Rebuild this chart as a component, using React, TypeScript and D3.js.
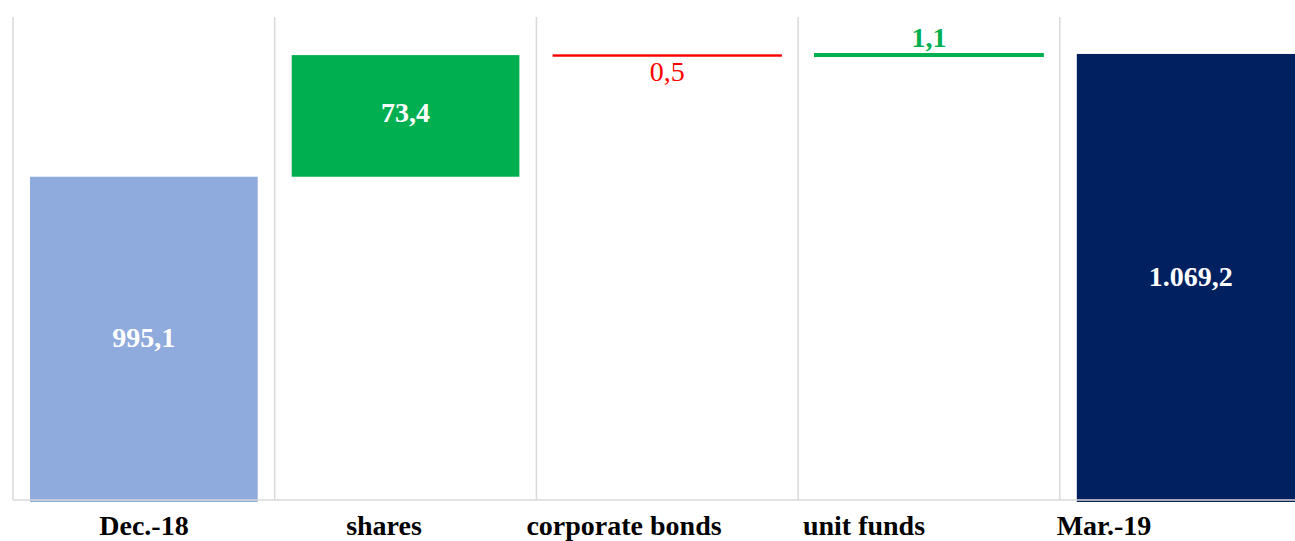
import React, { useEffect, useRef } from 'react';
import * as d3 from 'd3';

const categories = ['Dec.-18', 'shares', 'corporate bonds', 'unit funds', 'Mar.-19'];
const values = [995.1, 73.4, -0.5, 1.1, 1069.2];
const valueLabels = ['995,1', '73,4', '0,5', '1,1', '1.069,2'];
const kinds = ['total', 'delta', 'delta', 'delta', 'total'];
const yDomain = [800, 1091.5];

const WIDTH = 1295;
const HEIGHT = 541;

const App = () => {
  const svgRef = useRef<SVGSVGElement>(null);

  useEffect(() => {
    const svg = d3.select(svgRef.current);
    svg.selectAll('*').remove();

    const left = 13;
    const n = categories.length;
    const step = 261.7;
    const x = d3.scaleBand<string>()
      .domain(categories)
      .range([left, left + n * step])
      .paddingInner(0.13)
      .paddingOuter(0.065);
    // category labels sit in their own evenly spaced row under the plot
    const xLabel = d3.scalePoint<string>()
      .domain(categories)
      .range([144, 1104]);
    const y = d3.scaleLinear().domain(yDomain).range([500, 17]);

    // waterfall segments
    let running = 0;
    const segs = categories.map((c, i) => {
      let y0, y1;
      if (kinds[i] === 'total') {
        y0 = yDomain[0];
        y1 = values[i];
        running = values[i];
      } else {
        y0 = running;
        y1 = running + values[i];
        running = y1;
      }
      return { c, i, lo: Math.min(y0, y1), hi: Math.max(y0, y1), v: values[i] };
    });

    const colorFor = (d) => {
      if (d.i === 0) return '#8FAADC';
      if (d.i === n - 1) return '#002060';
      return d.v >= 0 ? '#00B050' : '#FF0000';
    };

    // gridlines at band boundaries
    const g = svg.append('g');
    d3.range(n).forEach(i => {
      const gx = left + i * step;
      g.append('line')
        .attr('x1', gx).attr('x2', gx)
        .attr('y1', 17).attr('y2', 500)
        .attr('stroke', '#D9D9D9')
        .attr('stroke-width', 1.5);
    });

    // bars
    svg.selectAll('rect.bar')
      .data(segs)
      .enter()
      .append('rect')
      .attr('class', 'bar')
      .attr('x', d => x(d.c))
      .attr('width', x.bandwidth())
      .attr('y', d => y(d.hi))
      .attr('height', d => Math.max(0.5, y(d.lo) - y(d.hi)) + (kinds[d.i] === 'total' ? 2 : 0))
      .attr('fill', colorFor)
      .attr('stroke', colorFor)
      .attr('stroke-width', d => (Math.abs(d.v) < 2 ? (d.v > 0 ? 2.2 : 1.6) : 0));

    // axis line
    svg.append('line')
      .attr('x1', left).attr('x2', WIDTH)
      .attr('y1', 500).attr('y2', 500)
      .attr('stroke', '#D9D9D9')
      .attr('stroke-width', 1.5);

    // value labels
    svg.selectAll('text.val')
      .data(segs)
      .enter()
      .append('text')
      .attr('class', 'val')
      .attr('x', d => x(d.c) + x.bandwidth() / 2)
      .attr('y', d => {
        if (Math.abs(d.v) < 2) {
          return d.v < 0 ? y(d.lo) + 25 : y(d.hi) - 7;
        }
        return (y(d.hi) + y(d.lo)) / 2 + (d.i === 1 ? 6 : 9);
      })
      .attr('text-anchor', 'middle')
      .attr('font-family', '"Liberation Serif", "Times New Roman", serif')
      .attr('font-size', 28)
      .attr('font-weight', d => (d.v < 0 ? 'normal' : 'bold'))
      .attr('fill', d => (Math.abs(d.v) < 2 ? colorFor(d) : '#FFFFFF'))
      .text(d => valueLabels[d.i]);

    // category labels
    svg.selectAll('text.cat')
      .data(categories)
      .enter()
      .append('text')
      .attr('class', 'cat')
      .attr('x', d => xLabel(d))
      .attr('y', 535)
      .attr('text-anchor', 'middle')
      .attr('font-family', '"Liberation Serif", "Times New Roman", serif')
      .attr('font-size', 28)
      .attr('font-weight', 'bold')
      .attr('fill', '#000000')
      .text(d => d);
  }, []);

  return (
    <svg
      ref={svgRef}
      width={WIDTH}
      height={HEIGHT}
      style={{ position: 'absolute', left: 0, top: 0, background: '#fff' }}
    />
  );
};

export default App;
